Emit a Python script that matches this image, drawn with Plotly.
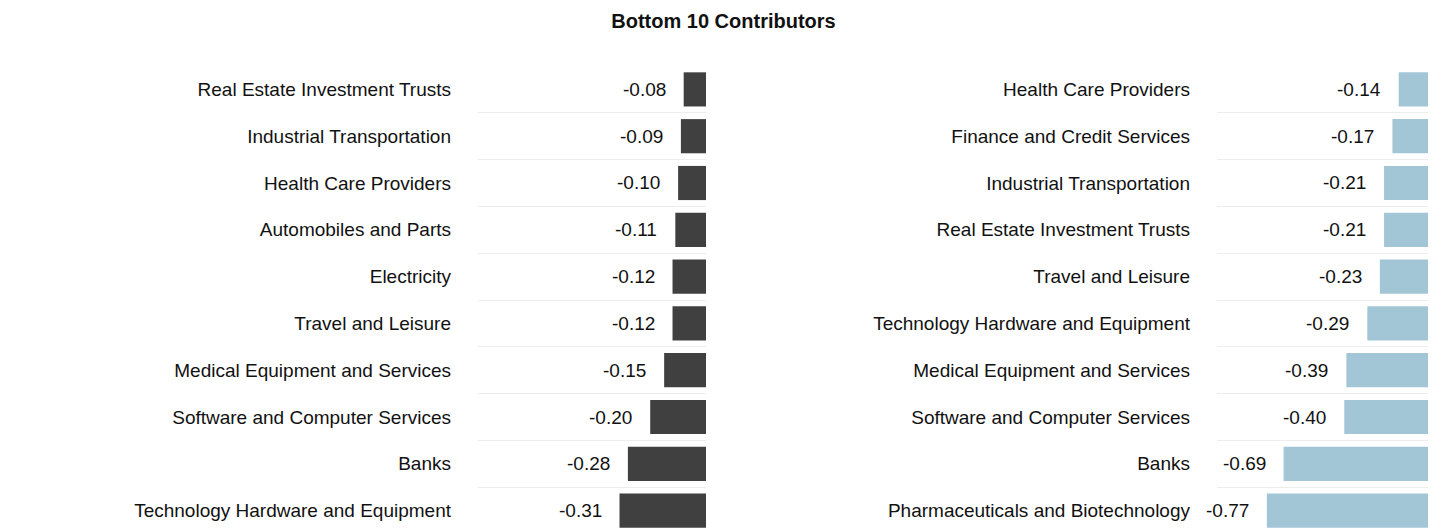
import plotly.graph_objects as go

# Left panel: bottom 10 contributors (dark series)
left_sectors = [
    "Real Estate Investment Trusts",
    "Industrial Transportation",
    "Health Care Providers",
    "Automobiles and Parts",
    "Electricity",
    "Travel and Leisure",
    "Medical Equipment and Services",
    "Software and Computer Services",
    "Banks",
    "Technology Hardware and Equipment",
]
left_values = [-0.08, -0.09, -0.10, -0.11, -0.12, -0.12, -0.15, -0.20, -0.28, -0.31]

# Right panel: bottom 10 contributors (light series)
right_sectors = [
    "Health Care Providers",
    "Finance and Credit Services",
    "Industrial Transportation",
    "Real Estate Investment Trusts",
    "Travel and Leisure",
    "Technology Hardware and Equipment",
    "Medical Equipment and Services",
    "Software and Computer Services",
    "Banks",
    "Pharmaceuticals and Biotechnology",
]
right_values = [-0.14, -0.17, -0.21, -0.21, -0.23, -0.29, -0.39, -0.40, -0.69, -0.77]

title_text = "Bottom 10 Contributors"

W, H = 1447, 529
FONT = "Liberation Sans, Arial, sans-serif"
DARK = "#404040"
LIGHT = "#a3c6d6"
GRID = "#ededed"
TEXT = "#111111"

fig = go.Figure()

fig.add_trace(go.Bar(
    x=left_values, y=left_sectors, orientation="h",
    marker=dict(color=DARK, line=dict(width=0)),
    xaxis="x", yaxis="y", showlegend=False, hoverinfo="x+y",
))
fig.add_trace(go.Bar(
    x=right_values, y=right_sectors, orientation="h",
    marker=dict(color=LIGHT, line=dict(width=0)),
    xaxis="x2", yaxis="y2", showlegend=False, hoverinfo="x+y",
))

# value labels to the left of each bar
annotations = []
for xs, ys, xr, yr in [(left_values, left_sectors, "x", "y"),
                       (right_values, right_sectors, "x2", "y2")]:
    for v, s in zip(xs, ys):
        annotations.append(dict(
            x=v, y=s, xref=xr, yref=yr, text=f"{v:.2f}",
            showarrow=False, xanchor="right", yanchor="middle",
            xshift=-16, font=dict(family=FONT, size=19, color=TEXT),
        ))

# one category row is ~46.8 px; the bottom row runs slightly past the page edge
row_px = 46.8
top_px = 65
y_dom_top = 1 - top_px / H
pad = 1 / row_px
y_span = (H - top_px) / row_px
y_range = [-0.5 - pad + y_span, -0.5 - pad]

def yaxis_cfg(anchor):
    return dict(
        type="category", range=y_range, domain=[0, y_dom_top],
        anchor=anchor, tickson="boundaries",
        showgrid=True, gridcolor=GRID, gridwidth=1,
        ticks="", ticklabelstandoff=26, showline=False, zeroline=False,
        tickfont=dict(family=FONT, size=19, color=TEXT),
        fixedrange=True,
    )

fig.update_layout(
    width=W, height=H,
    margin=dict(l=0, r=0, t=0, b=0),
    paper_bgcolor="white", plot_bgcolor="white",
    bargap=0.27,
    title=dict(
        text=f"<b>{title_text}</b>", x=0.5, xanchor="center",
        y=1 - 21 / H, yanchor="middle", yref="container",
        font=dict(family=FONT, size=20, color=TEXT),
    ),
    xaxis=dict(domain=[478 / W, 706 / W], range=[-228 / 279, 0],
               visible=False, showgrid=False, zeroline=False, anchor="y"),
    xaxis2=dict(domain=[1217 / W, 1428 / W], range=[-211 / 209.3, 0],
                visible=False, showgrid=False, zeroline=False, anchor="y2"),
    yaxis=yaxis_cfg("x"),
    yaxis2=yaxis_cfg("x2"),
    annotations=annotations,
)

fig.write_html("out.html")
